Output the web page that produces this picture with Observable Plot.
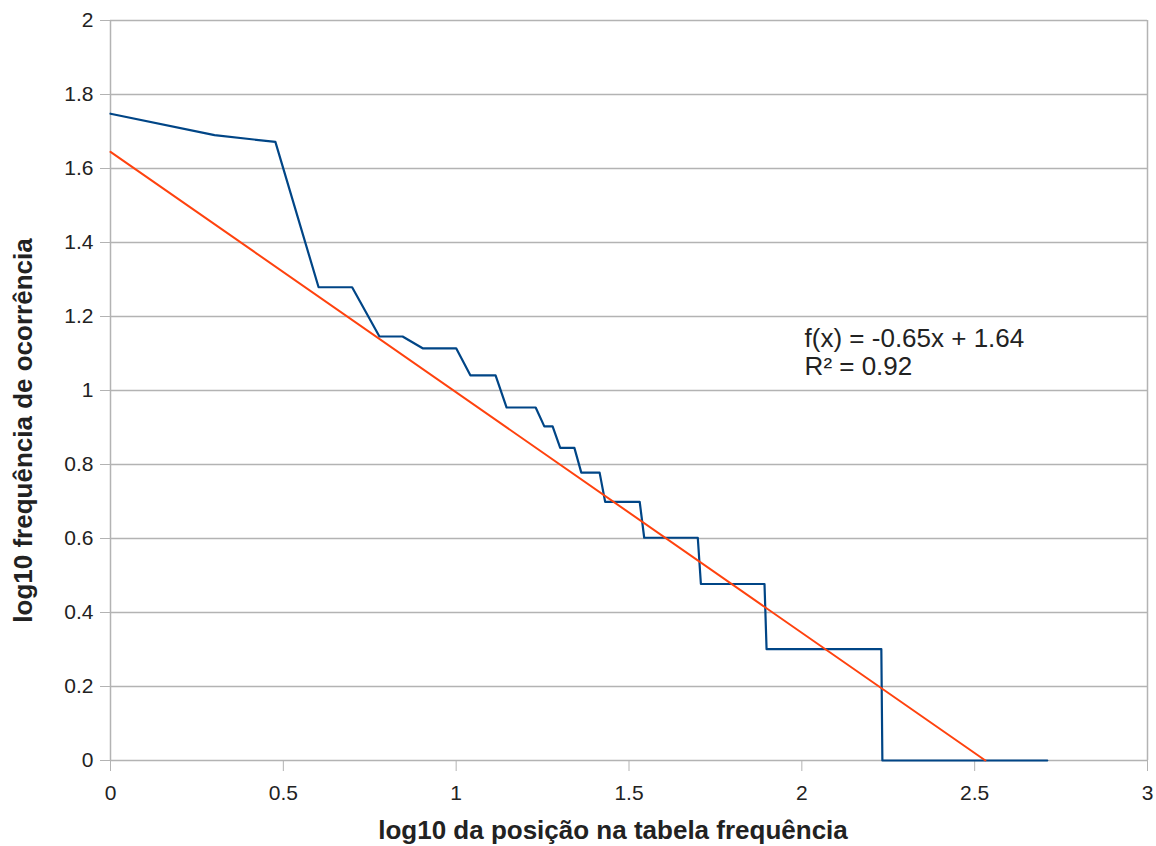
<!DOCTYPE html>
<html>
<head>
<meta charset="utf-8">
<script src="https://cdn.jsdelivr.net/npm/d3@7"></script>
<script src="https://cdn.jsdelivr.net/npm/@observablehq/plot@0.6"></script>
<style>
  html, body { margin: 0; padding: 0; background: #fff; }
  #chart svg { display: block; }
</style>
</head>
<body>
<div id="chart"></div>
<script>
// log10 of rank (position in frequency table) — vertices of the curve
const logRank = [0, 0.301, 0.477, 0.602, 0.699, 0.778, 0.845, 0.903, 1.000, 1.041, 1.114,
  1.146, 1.230, 1.255, 1.279, 1.301, 1.342, 1.362, 1.415, 1.431, 1.531, 1.544, 1.699,
  1.708, 1.892, 1.898, 2.230, 2.233, 2.710];
// log10 of frequency of occurrence
const logFreq = [1.748, 1.690, 1.672, 1.279, 1.279, 1.146, 1.146, 1.114, 1.114, 1.041, 1.041,
  0.954, 0.954, 0.903, 0.903, 0.845, 0.845, 0.778, 0.778, 0.699, 0.699, 0.602, 0.602,
  0.477, 0.477, 0.301, 0.301, 0, 0];
// linear trend line endpoints
const trendX = [0, 2.531];
const trendY = [1.645, 0];
const trendLabel = ["f(x) = -0.65x + 1.64", "R² = 0.92"];
const xTicks = [0, 0.5, 1, 1.5, 2, 2.5, 3];
const yTicks = [0, 0.2, 0.4, 0.6, 0.8, 1, 1.2, 1.4, 1.6, 1.8, 2];
const xTitle = "log10 da posição na tabela frequência";
const yTitle = "log10 frequência de ocorrência";

const series = logRank.map((x, i) => ({x, y: logFreq[i]}));
const trend = trendX.map((x, i) => ({x, y: trendY[i]}));
const fmt = d => String(+d.toFixed(1));
const grid = "#b3b3b3";

const chart = Plot.plot({
  width: 1156,
  height: 846,
  marginLeft: 110,
  marginRight: 9,
  marginTop: 20,
  marginBottom: 86,
  style: {fontFamily: "'Liberation Sans', Arial, sans-serif", fontSize: "21px", color: "#222", background: "#fff"},
  x: {domain: [0, 3]},
  y: {domain: [0, 2]},
  marks: [
    Plot.gridY(yTicks, {stroke: grid, strokeOpacity: 1, strokeWidth: 1.3}),
    Plot.ruleX([0, 3], {stroke: grid, strokeWidth: 1.5}),
    Plot.axisY(yTicks, {tickSize: 10, tickPadding: 7, stroke: grid, strokeOpacity: 1, tickFormat: fmt, label: null, fontSize: 21, fill: "#222"}),
    Plot.axisX(xTicks, {tickSize: 11, tickPadding: 14, stroke: grid, strokeOpacity: 1, tickFormat: fmt, label: null, fontSize: 21, fill: "#222"}),
    Plot.line(series, {x: "x", y: "y", stroke: "#004586", strokeWidth: 2.2}),
    Plot.line(trend, {x: "x", y: "y", stroke: "#ff420e", strokeWidth: 2}),
    Plot.text([trendLabel.join("\n")], {x: 2.008, y: 1.172, text: d => d, textAnchor: "start", lineAnchor: "top", fontSize: 26, lineHeight: 1.08, fill: "#222"}),
    Plot.text([xTitle], {frameAnchor: "bottom", textAnchor: "middle", lineAnchor: "middle", dx: -16, dy: 70, text: d => d, fontSize: 26, fontWeight: "bold", fill: "#222"}),
    Plot.text([yTitle], {frameAnchor: "left", textAnchor: "middle", lineAnchor: "middle", dx: -87, dy: 40, rotate: -90, text: d => d, fontSize: 26, fontWeight: "bold", fill: "#222"})
  ]
});
document.getElementById("chart").append(chart);
</script>
</body>
</html>
